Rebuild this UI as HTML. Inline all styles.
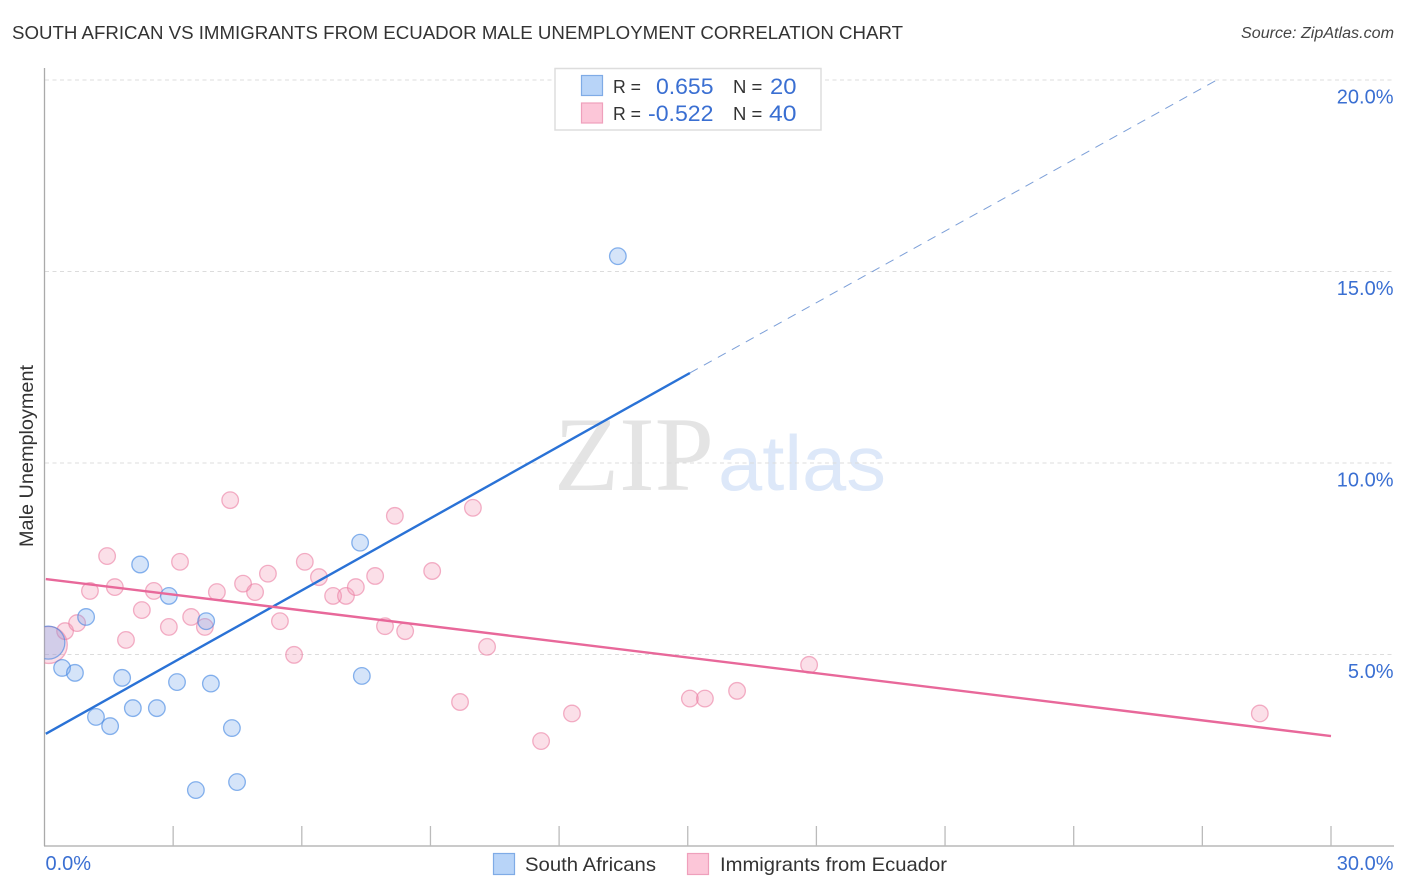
<!DOCTYPE html>
<html lang="en">
<head>
<meta charset="utf-8">
<title>South African vs Immigrants from Ecuador Male Unemployment Correlation Chart</title>
<style>
html,body{margin:0;padding:0;background:#fff;}
body{width:1406px;height:892px;overflow:hidden;}
svg{display:block;font-family:"Liberation Sans",sans-serif;}
</style>
</head>
<body>
<svg id="chart" xmlns="http://www.w3.org/2000/svg" width="1406" height="892" viewBox="0 0 1406 892">
  <defs>
    <clipPath id="plot-clip"><rect x="44.5" y="60" width="1350" height="786"/></clipPath>
  </defs>
  <rect x="0" y="0" width="1406" height="892" fill="#fff"/>
  <text x="12" y="39" font-size="18.5" fill="#333" textLength="891" lengthAdjust="spacingAndGlyphs">SOUTH AFRICAN VS IMMIGRANTS FROM ECUADOR MALE UNEMPLOYMENT CORRELATION CHART</text>
  <text x="1241" y="38" font-size="15.5" font-style="italic" fill="#444" textLength="153" lengthAdjust="spacingAndGlyphs">Source: ZipAtlas.com</text>
  <g id="watermark">
    <text x="554" y="490" font-family="'Liberation Serif',serif" font-size="106" fill="#e4e4e4" textLength="160" lengthAdjust="spacingAndGlyphs">ZIP</text>
    <text x="718" y="490" font-size="78" fill="#dde8f9" textLength="168" lengthAdjust="spacingAndGlyphs">atlas</text>
  </g>
  <g id="grid"></g>
  <g id="axes">
    <line x1="44.5" y1="68" x2="44.5" y2="846" stroke="#aaa" stroke-width="1.3"/>
    <line x1="44" y1="846" x2="1394" y2="846" stroke="#aaa" stroke-width="1.3"/>
  </g>
  <g id="xticks"></g>
  <g id="ylabels"></g>
  <g id="xlabels"></g>
  <text transform="translate(33,456) rotate(-90)" font-size="19" fill="#333" text-anchor="middle" textLength="182" lengthAdjust="spacingAndGlyphs">Male Unemployment</text>
  <g id="points" clip-path="url(#plot-clip)"></g>
  <g id="trends"></g>

  <g>
    <rect x="555" y="68.500" width="266" height="61.500" fill="#fff" stroke="#ddd" stroke-width="1.500"/>
    <rect x="581.500" y="75.500" width="21" height="20" fill="#b8d4f8" stroke="#7fabe6" stroke-width="1.200"/>
    <rect x="581.500" y="103" width="21" height="20" fill="#fcc6d8" stroke="#efa0bc" stroke-width="1.200"/>
    <text x="613" y="93" font-size="18.500" fill="#333" textLength="28" lengthAdjust="spacingAndGlyphs">R =</text>
    <text x="656" y="94" font-size="22" fill="#3a6fd2" textLength="57.500" lengthAdjust="spacingAndGlyphs">0.655</text>
    <text x="733" y="93" font-size="18.500" fill="#333">N =</text>
    <text x="770" y="94" font-size="22" fill="#3a6fd2" textLength="26.500" lengthAdjust="spacingAndGlyphs">20</text>
    <text x="613" y="120" font-size="18.500" fill="#333" textLength="28" lengthAdjust="spacingAndGlyphs">R =</text>
    <text x="648" y="121" font-size="22" fill="#3a6fd2" textLength="65.500" lengthAdjust="spacingAndGlyphs">-0.522</text>
    <text x="733" y="120" font-size="18.500" fill="#333">N =</text>
    <text x="769" y="121" font-size="22" fill="#3a6fd2" textLength="27.500" lengthAdjust="spacingAndGlyphs">40</text>
  </g>

  <g>
    <g>
      <rect x="493.500" y="853.500" width="21" height="21" fill="#b8d4f8" stroke="#7fabe6" stroke-width="1.200"/>
      <text x="525" y="871" font-size="19.500" fill="#333" textLength="131" lengthAdjust="spacingAndGlyphs">South Africans</text>
    </g>
    <g>
      <rect x="687.500" y="853.500" width="21" height="21" fill="#fcc6d8" stroke="#efa0bc" stroke-width="1.200"/>
      <text x="720" y="871" font-size="19.500" fill="#333" textLength="227" lengthAdjust="spacingAndGlyphs">Immigrants from Ecuador</text>
    </g>
  </g>
</svg>
<script>
const yTickValues = [5, 10, 15, 20];
const yTickLabels = ["5.0%", "10.0%", "15.0%", "20.0%"];
const xTickValues = [3, 6, 9, 12, 15, 18, 21, 24, 27, 30];
const xEndLabels = ["0.0%", "30.0%"];

const blueX = [0.09, 0.41, 0.71, 0.97, 1.20, 1.53, 1.81, 2.06, 2.62, 2.23, 2.90, 3.09, 3.77, 3.88, 4.37, 3.53, 4.49, 7.36, 7.40, 13.37];
const blueY = [5.31, 4.65, 4.52, 5.98, 3.37, 3.13, 4.39, 3.60, 3.60, 7.35, 6.53, 4.28, 5.87, 4.24, 3.08, 1.46, 1.67, 7.92, 4.44, 15.40];
const pinkX = [0.10, 0.48, 0.76, 1.06, 1.46, 1.64, 1.90, 2.27, 2.55, 2.90, 3.16, 3.42, 3.74, 4.02, 4.33, 4.63, 4.91, 5.21, 5.49, 5.82, 6.07, 6.40, 6.73, 7.03, 7.26, 7.71, 7.94, 8.17, 8.41, 9.04, 9.69, 9.99, 10.32, 11.58, 12.30, 15.05, 15.40, 16.15, 17.83, 28.34];
const pinkY = [5.25, 5.61, 5.82, 6.66, 7.57, 6.76, 5.38, 6.16, 6.66, 5.72, 7.42, 5.98, 5.72, 6.63, 9.03, 6.85, 6.63, 7.11, 5.87, 4.99, 7.42, 7.02, 6.53, 6.53, 6.76, 7.05, 5.74, 8.62, 5.61, 7.18, 3.76, 8.83, 5.20, 2.74, 3.46, 3.85, 3.85, 4.05, 4.73, 3.46];

const blueTrendX = [0.03, 15.05];
const blueTrendY = [2.93, 12.35];
const blueExtensionX = [15.05, 27.32];
const blueExtensionY = [12.35, 19.99];
const pinkTrendX = [0.03, 30];
const pinkTrendY = [6.97, 2.87];

const SVG_NS = "http://www.w3.org/2000/svg";
function xScale(v) { return 44.5 + v * (1331 - 44.5) / 30; }
function yScale(v) { return 846 - v * 38.3; }
function make(parentId, tag, attrs, text) {
  const el = document.createElementNS(SVG_NS, tag);
  for (const k in attrs) el.setAttribute(k, attrs[k]);
  if (text !== undefined) el.textContent = text;
  document.getElementById(parentId).appendChild(el);
  return el;
}

yTickValues.forEach(function (v, i) {
  const g = make("grid", "line", {x1: 45, x2: 1393, y1: yScale(v), y2: yScale(v), stroke: "#dcdcdc", "stroke-width": 1, "stroke-dasharray": "4 3.5"});
  
  
  const t = make("ylabels", "text", {x: 1393.5, y: yScale(v) + 23.5, "font-size": 20, fill: "#3a6fd2", "text-anchor": "end"}, yTickLabels[i]);
  
  
});

xTickValues.forEach(function (v) {
  const tk = make("xticks", "line", {x1: xScale(v), x2: xScale(v), y1: 826, y2: 846, stroke: "#bbb", "stroke-width": 1.3});
  
  
});

const xLeftLabel = make("xlabels", "text", {x: xScale(0) + 1, y: 870, "font-size": 20, fill: "#3a6fd2"}, xEndLabels[0]);


const xRightLabel = make("xlabels", "text", {x: 1393.5, y: 870, "font-size": 20, fill: "#3a6fd2", "text-anchor": "end"}, xEndLabels[1]);



pinkX.forEach(function (v, i) {
  const c = make("points", "circle", {cx: xScale(v), cy: yScale(pinkY[i]), r: i === 0 ? 18.5 : 8.3, fill: "rgba(242,148,178,.3)", stroke: "rgba(235,125,162,.6)", "stroke-width": 1.3});
  
  
});
blueX.forEach(function (v, i) {
  const c = make("points", "circle", {cx: xScale(v), cy: yScale(blueY[i]), r: i === 0 ? 16.5 : 8.3, fill: "rgba(115,165,235,.3)", stroke: "rgba(60,130,225,.6)", "stroke-width": 1.3});
  
  
});

const blueExt = make("trends", "line", {x1: xScale(blueExtensionX[0]), y1: yScale(blueExtensionY[0]), x2: xScale(blueExtensionX[1]), y2: yScale(blueExtensionY[1]), stroke: "#7c9fd8", "stroke-width": 1, "stroke-dasharray": "9 7"});


const blueLine = make("trends", "line", {x1: xScale(blueTrendX[0]), y1: yScale(blueTrendY[0]), x2: xScale(blueTrendX[1]), y2: yScale(blueTrendY[1]), stroke: "#2a72d6", "stroke-width": 2.4});


const pinkLine = make("trends", "line", {x1: xScale(pinkTrendX[0]), y1: yScale(pinkTrendY[0]), x2: xScale(pinkTrendX[1]), y2: yScale(pinkTrendY[1]), stroke: "#e8689a", "stroke-width": 2.4});


</script>
</body>
</html>
